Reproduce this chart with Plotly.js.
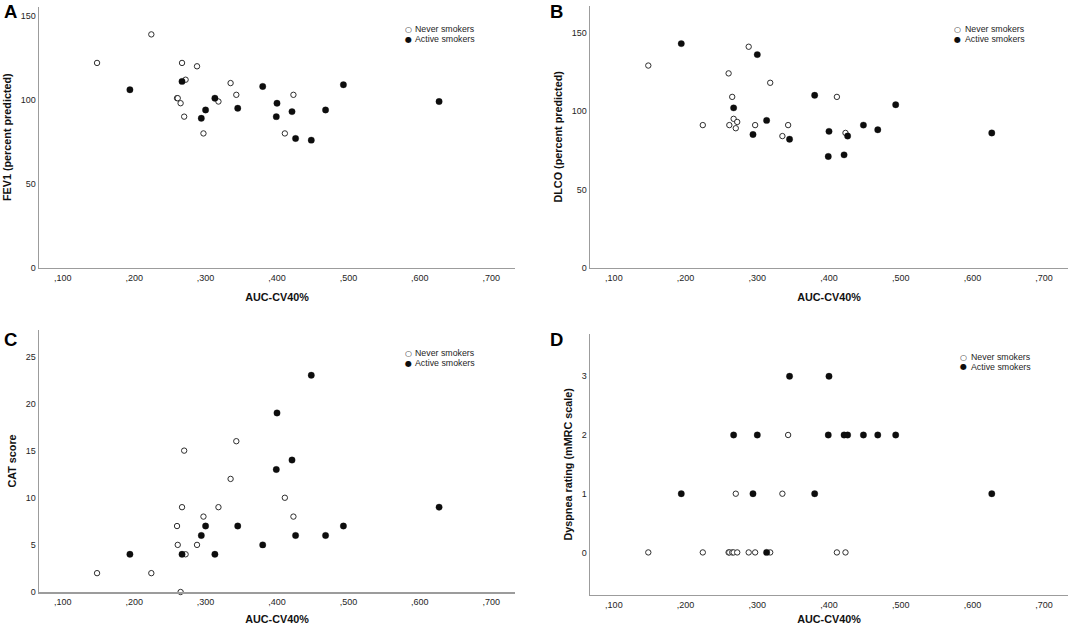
<!DOCTYPE html>
<html>
<head>
<meta charset="utf-8">
<script src="https://cdn.plot.ly/plotly-3.0.1.min.js"></script>
<style>
  html, body { margin: 0; padding: 0; background: #ffffff; }
  #chart { width: 1070px; height: 625px; }
</style>
</head>
<body>
<div id="chart"></div>
<script>
// ---------- data ----------
const neverX  = [0.148, 0.224, 0.260, 0.261, 0.265, 0.267, 0.270, 0.272, 0.288, 0.297, 0.318, 0.335, 0.343, 0.411, 0.423];
const activeX = [0.194, 0.267, 0.313, 0.300, 0.294, 0.345, 0.380, 0.400, 0.399, 0.421, 0.426, 0.448, 0.468, 0.493, 0.627];

const neverFEV1   = [122, 139, 101, 101, 98, 122, 90, 112, 120, 80, 99, 110, 103, 80, 103];
const activeFEV1  = [106, 111, 101, 94, 89, 95, 108, 98, 90, 93, 77, 76, 94, 109, 99];

const neverDLCO   = [129, 91, 124, 91, 109, 95, 89, 93, 141, 91, 118, 84, 91, 109, 86];
const activeDLCO  = [143, 102, 94, 136, 85, 82, 110, 87, 71, 72, 84, 91, 88, 104, 86];

const neverCAT    = [2, 2, 7, 5, 0, 9, 15, 4, 5, 8, 9, 12, 16, 10, 8];
const activeCAT   = [4, 4, 4, 7, 6, 7, 5, 19, 13, 14, 6, 23, 6, 7, 9];

const neverMMRC   = [0, 0, 0, 0, 0, 0, 1, 0, 0, 0, 0, 1, 2, 0, 0];
const activeMMRC  = [1, 2, 0, 2, 1, 3, 1, 3, 2, 2, 2, 2, 2, 2, 1];

const xTickVals   = [0.1, 0.2, 0.3, 0.4, 0.5, 0.6, 0.7];
const xTickText   = [",100", ",200", ",300", ",400", ",500", ",600", ",700"];
const yTicksFEV1  = [0, 50, 100, 150];
const yTicksDLCO  = [0, 50, 100, 150];
const yTicksCAT   = [0, 5, 10, 15, 20, 25];
const yTicksMMRC  = [0, 1, 2, 3];

const xTitle = "AUC-CV40%";
const yTitles = ["FEV1 (percent predicted)", "DLCO (percent predicted)", "CAT score", "Dyspnea rating (mMRC scale)"];
const panelLetters = ["A", "B", "C", "D"];
const seriesNames = ["Never smokers", "Active smokers"];

// ---------- styling / layout ----------
const FONT = "Liberation Sans, Arial, Helvetica, sans-serif";
const W = 1070, H = 625;
const px = v => v / W;
const py = v => 1 - v / H;

const openMarker   = { symbol: "circle", size: 5.4, color: "#ffffff", line: { color: "#2e2e2e", width: 1 } };
const filledMarker = { symbol: "circle", size: 6.4, color: "#0d0d0d", line: { color: "#0d0d0d", width: 0.3 } };

const panels = [
  { nx: neverX, ny: neverFEV1, ax: activeX, ay: activeFEV1, yt: yTicksFEV1, yr: [0, 155.5],
    dx: [39, 515], dy: [267.7, 6.7], leg: [408.3, 413, 29.3, 39.3], let: [2, 11.7] },
  { nx: neverX, ny: neverDLCO, ax: activeX, ay: activeDLCO, yt: yTicksDLCO, yr: [0, 167],
    dx: [590, 1068], dy: [267.7, 6], leg: [957.5, 962.8, 29.3, 39.3], let: [548, 11.7] },
  { nx: neverX, ny: neverCAT, ax: activeX, ay: activeCAT, yt: yTicksCAT, yr: [0, 27.8],
    dx: [39, 515], dy: [592, 330], leg: [408, 413.4, 353, 363], let: [2, 339.5] },
  { nx: neverX, ny: neverMMRC, ax: activeX, ay: activeMMRC, yt: yTicksMMRC, yr: [-0.72, 3.72],
    dx: [590, 1068], dy: [594.7, 334], leg: [963, 969, 357.3, 366.7], let: [548, 339] }
];

const traces = [];
const layout = {
  width: W, height: H,
  margin: { l: 0, r: 0, t: 0, b: 0, pad: 0 },
  paper_bgcolor: "#ffffff", plot_bgcolor: "#ffffff",
  showlegend: false,
  font: { family: FONT, color: "#222222", size: 9 },
  annotations: []
};

panels.forEach((p, i) => {
  const n = i + 1;
  const xa = n === 1 ? "x" : "x" + n;
  const ya = n === 1 ? "y" : "y" + n;
  traces.push({ type: "scatter", mode: "markers", name: seriesNames[0], x: p.nx, y: p.ny,
    xaxis: xa, yaxis: ya, marker: openMarker, cliponaxis: false, hoverinfo: "x+y+name" });
  traces.push({ type: "scatter", mode: "markers", name: seriesNames[1], x: p.ax, y: p.ay,
    xaxis: xa, yaxis: ya, marker: filledMarker, cliponaxis: false, hoverinfo: "x+y+name" });

  const common = {
    showline: true, linecolor: "#9c9c9c", linewidth: 1.5,
    showgrid: false, zeroline: false, ticks: "", mirror: false,
    tickfont: { family: FONT, size: 9, color: "#1e1e1e" },
    fixedrange: true, automargin: false
  };
  layout["xaxis" + (n === 1 ? "" : n)] = Object.assign({}, common, {
    domain: [px(p.dx[0]), px(p.dx[1])],
    anchor: ya, range: [0.0667, 0.7333],
    tickmode: "array", tickvals: xTickVals, ticktext: xTickText,
    ticklabelstandoff: 1,
    title: { text: xTitle, font: { family: FONT, size: 10.8, weight: "bold", color: "#111111" }, standoff: 11 }
  });
  layout["yaxis" + (n === 1 ? "" : n)] = Object.assign({}, common, {
    domain: [py(p.dy[0]), py(p.dy[1])],
    anchor: xa, range: p.yr,
    tickmode: "array", tickvals: p.yt, ticktext: p.yt.map(String),
    title: { text: yTitles[i], font: { family: FONT, size: 10.8, weight: "bold", color: "#111111" }, standoff: 7 }
  });

  // legend block (symbol + label), top-right of each panel
  layout.annotations.push(
    { xref: "paper", yref: "paper", x: px(p.leg[0]), y: py(p.leg[2]), xanchor: "center", yanchor: "middle",
      text: "○", showarrow: false, font: { family: "DejaVu Sans", size: 8, color: "#2e2e2e" } },
    { xref: "paper", yref: "paper", x: px(p.leg[1]), y: py(p.leg[2]), xanchor: "left", yanchor: "middle",
      text: seriesNames[0], showarrow: false, font: { family: FONT, size: 8.8, color: "#1e1e1e" } },
    { xref: "paper", yref: "paper", x: px(p.leg[0]), y: py(p.leg[3]), xanchor: "center", yanchor: "middle",
      text: "●", showarrow: false, font: { family: "DejaVu Sans", size: 8, color: "#0d0d0d" } },
    { xref: "paper", yref: "paper", x: px(p.leg[1]), y: py(p.leg[3]), xanchor: "left", yanchor: "middle",
      text: seriesNames[1], showarrow: false, font: { family: FONT, size: 8.8, color: "#1e1e1e" } },
    { xref: "paper", yref: "paper", x: px(p.let[0]), y: py(p.let[1]), xanchor: "left", yanchor: "middle",
      text: panelLetters[i], showarrow: false, font: { family: FONT, size: 18.5, weight: "bold", color: "#000000" } }
  );
});

Plotly.newPlot("chart", traces, layout, { staticPlot: true, displayModeBar: false });
</script>
</body>
</html>
